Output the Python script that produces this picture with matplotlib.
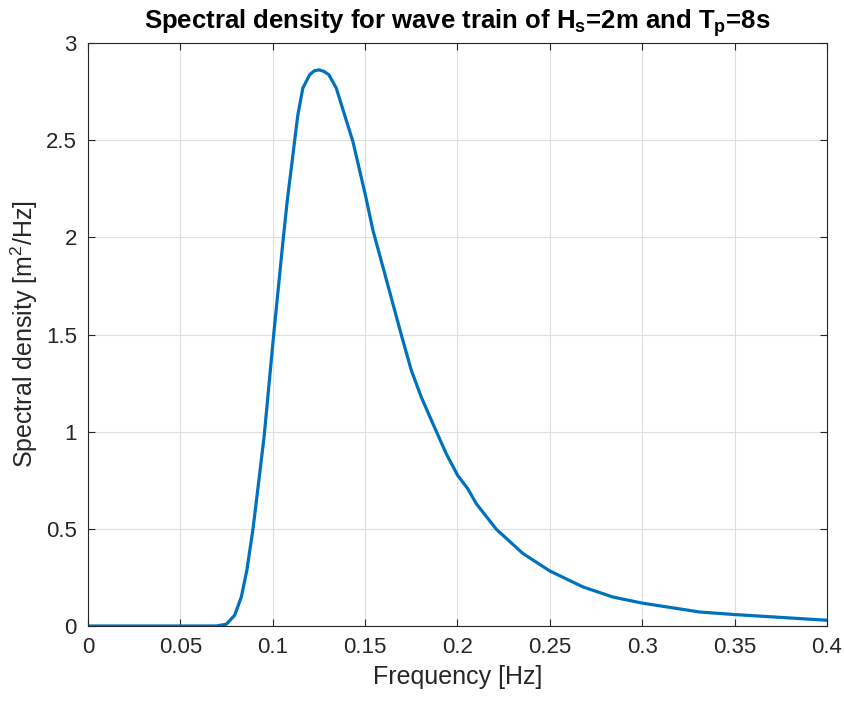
import numpy as np
from matplotlib import pyplot as plt
from matplotlib.ticker import FormatStrFormatter

plt.rcParams['font.family'] = ['Liberation Sans', 'DejaVu Sans']
plt.rcParams['mathtext.fontset'] = 'custom'
plt.rcParams['mathtext.rm'] = 'Liberation Sans'
plt.rcParams['mathtext.it'] = 'Liberation Sans'
plt.rcParams['mathtext.bf'] = 'Liberation Sans:bold'

# frequency (Hz) and spectral density (m^2/Hz)
freq = [0.0, 0.05, 0.0695, 0.0749, 0.0794, 0.083, 0.086, 0.0893, 0.0925, 0.0954,
        0.1005, 0.1055, 0.1079, 0.1106, 0.1118, 0.1136, 0.1163, 0.12, 0.1225,
        0.125, 0.1275, 0.1304, 0.1344, 0.1389, 0.1434, 0.1501, 0.1542, 0.1606,
        0.165, 0.1696, 0.175, 0.1804, 0.1867, 0.1939, 0.2001, 0.2056, 0.2102,
        0.221, 0.2354, 0.25, 0.2679, 0.2841, 0.2998, 0.331, 0.35, 0.4]
spec = [0.0, 0.0, 0.0, 0.009, 0.055, 0.149, 0.287, 0.498, 0.749, 0.98,
        1.497, 1.975, 2.192, 2.398, 2.493, 2.63, 2.768, 2.837, 2.857,
        2.862, 2.855, 2.837, 2.768, 2.63, 2.493, 2.22, 2.038, 1.814,
        1.660, 1.498, 1.316, 1.178, 1.041, 0.887, 0.775, 0.706, 0.629,
        0.498, 0.373, 0.283, 0.201, 0.149, 0.118, 0.072, 0.0588, 0.0294]

xticks = [0, 0.05, 0.1, 0.15, 0.2, 0.25, 0.3, 0.35, 0.4]
yticks = [0, 0.5, 1, 1.5, 2, 2.5, 3]

dark = '#262626'
fig = plt.figure(figsize=(8.45, 7.02), dpi=100)
ax = fig.add_axes([0.1041, 0.1083, 0.8746, 0.8304])
ax.plot(freq, spec, color='#0072BD', linewidth=2.3, solid_joinstyle='round')

ax.set_xlim(0, 0.4)
ax.set_ylim(0, 3)
ax.set_xticks(xticks)
ax.set_yticks(yticks)
ax.xaxis.set_major_formatter(FormatStrFormatter('%g'))
ax.yaxis.set_major_formatter(FormatStrFormatter('%g'))
ax.grid(True, color='#dfdfdf', linewidth=0.8)
ax.set_axisbelow(True)
ax.tick_params(direction='in', top=True, right=True, length=5, width=0.8,
               colors=dark, labelsize=16, pad=8)
for s in ax.spines.values():
    s.set_color(dark)
    s.set_linewidth(0.8)

ax.set_xlabel('Frequency [Hz]', fontsize=18, color=dark, labelpad=5)
ax.set_ylabel('Spectral density [m$^2$/Hz]', fontsize=18, color=dark, labelpad=4)
ax.set_title(r'Spectral density for wave train of H$_\mathbf{s}$=2m and T$_\mathbf{p}$=8s',
             fontsize=18.5, fontweight='bold', color='black', pad=10)

fig.savefig('out.png', dpi=100)
